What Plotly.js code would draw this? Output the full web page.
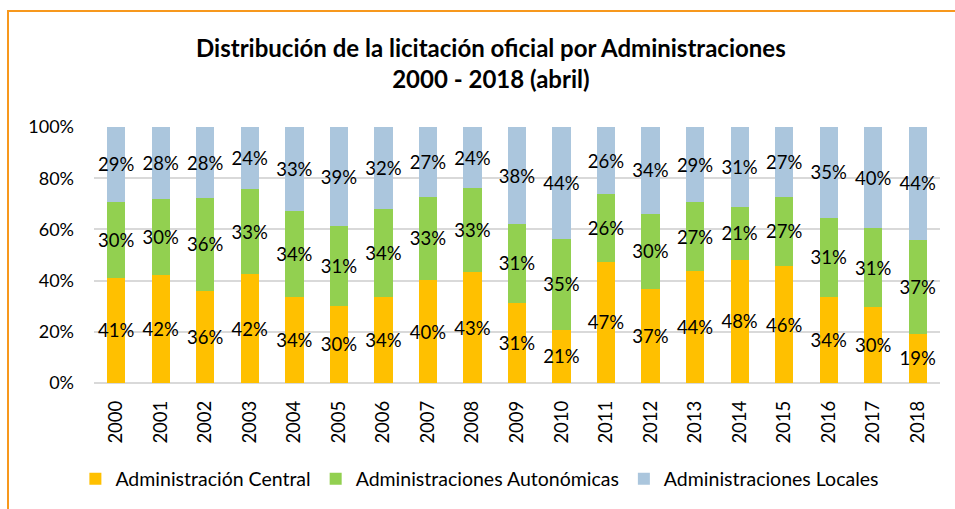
<!DOCTYPE html>
<html>
<head>
<meta charset="utf-8">
<script src="https://cdn.plot.ly/plotly-3.0.1.min.js"></script>
<style>
  html, body { margin: 0; padding: 0; background: #ffffff; overflow: hidden; }
  #wrap { position: relative; width: 955px; height: 509px; }
  #chart { position: absolute; left: 0; top: 0; width: 955px; height: 509px; }
  #frame { position: absolute; left: 7px; top: 10px; width: 1100px; height: 700px;
           border-left: 2px solid #F7981D; border-top: 2px solid #F7981D; pointer-events: none; }
</style>
</head>
<body>
<div id="wrap">
  <div id="chart"></div>
  <div id="frame"></div>
</div>
<script>
const years = ['2000','2001','2002','2003','2004','2005','2006','2007','2008','2009',
               '2010','2011','2012','2013','2014','2015','2016','2017','2018'];
const central = [41.1, 42.1, 36.1, 42.4, 33.6, 30.1, 33.7, 40.2, 43.3, 31.4,
                 20.9, 47.4, 36.6, 43.8, 48.1, 45.7, 33.7, 29.8, 19.3];
const autonomicas = [29.8, 29.8, 36.1, 33.2, 33.6, 31.1, 34.3, 32.6, 32.8, 30.7,
                     35.2, 26.3, 29.6, 26.8, 20.8, 27.1, 30.9, 30.6, 36.7];
const locales = [29.1, 28.1, 27.8, 24.4, 32.8, 38.8, 32.0, 27.2, 23.9, 37.9,
                 43.9, 26.3, 33.8, 29.4, 31.1, 27.2, 35.4, 39.6, 44.0];
const seriesNames = ['Administración Central', 'Administraciones Autonómicas', 'Administraciones Locales'];
const seriesColors = ['#FFC000', '#92D050', '#ABC6DD'];
const yTicks = [0, 20, 40, 60, 80, 100];
const yTickText = ['0%', '20%', '40%', '60%', '80%', '100%'];

const FONT = 'Lato, "Open Sans", sans-serif';

function barTrace(vals, i) {
  return {
    type: 'bar',
    name: seriesNames[i],
    x: years,
    y: vals,
    marker: { color: seriesColors[i], line: { width: 0 } },
    texttemplate: '%{y:.0f}%',
    textposition: 'inside',
    insidetextanchor: 'middle',
    constraintext: 'none',
    textangle: 0,
    textfont: { family: FONT, size: 18.5, color: '#000000' },
    hoverinfo: 'name+y'
  };
}

const data = [barTrace(central, 0), barTrace(autonomicas, 1), barTrace(locales, 2)];

const layout = {
  width: 955,
  height: 509,
  paper_bgcolor: 'rgba(0,0,0,0)',
  plot_bgcolor: '#ffffff',
  barmode: 'stack',
  bargap: 0.59,
  font: { family: FONT, size: 17, color: '#000000' },
  margin: { l: 94, r: 15, t: 127, b: 125 },
  title: {
    text: '<b>Distribución de la licitación oficial por Administraciones<br>2000 - 2018 (abril)</b>',
    font: { family: FONT, size: 24, color: '#000000' },
    x: 0.514, xref: 'container', xanchor: 'center',
    y: 0.888, yref: 'container', yanchor: 'middle'
  },
  xaxis: {
    type: 'category',
    tickangle: -90,
    tickfont: { family: FONT, size: 18.5, color: '#000000' },
    showgrid: false,
    showline: false,
    ticks: '',
    ticklabelstandoff: 13
  },
  yaxis: {
    range: [0, 100],
    tickmode: 'array',
    tickvals: yTicks,
    ticktext: yTickText,
    tickfont: { family: FONT, size: 18, color: '#000000' },
    showgrid: true,
    gridcolor: '#D9D9D9',
    gridwidth: 2,
    zeroline: true,
    zerolinecolor: '#D9D9D9',
    zerolinewidth: 2,
    showline: false,
    ticks: '',
    ticklabelstandoff: 19
  },
  legend: {
    orientation: 'h',
    x: -0.022, xanchor: 'left',
    y: -0.37, yanchor: 'middle',
    font: { family: FONT, size: 19.5, color: '#000000' },
    traceorder: 'normal',
    itemclick: false
  },
  showlegend: true
};

Plotly.newPlot('chart', data, layout, { displayModeBar: false, staticPlot: true });
</script>
</body>
</html>
